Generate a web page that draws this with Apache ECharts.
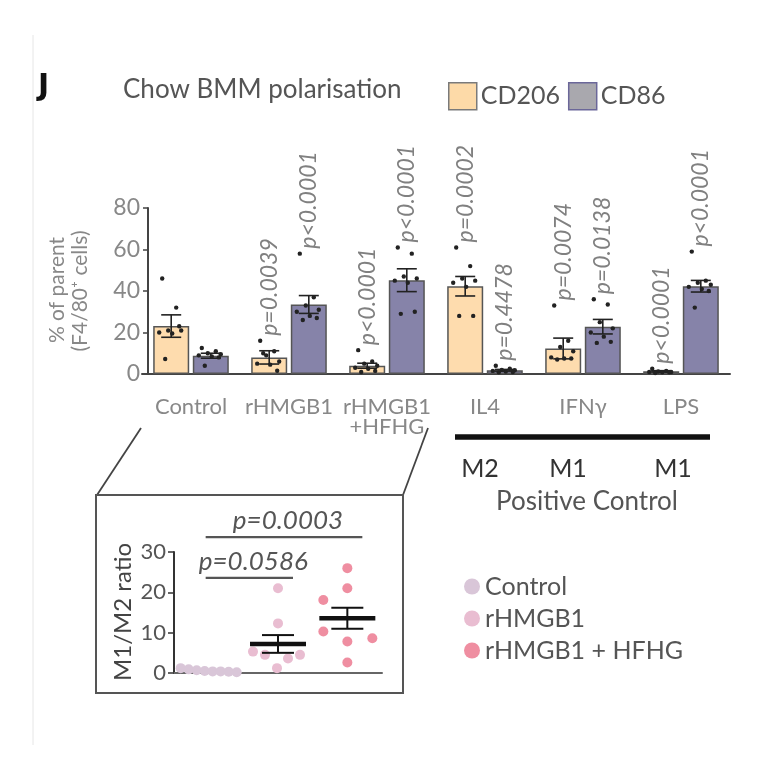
<!DOCTYPE html>
<html><head><meta charset="utf-8">
<script src="https://cdn.jsdelivr.net/npm/echarts@6/dist/echarts.min.js"></script>
<style>html,body{margin:0;padding:0;background:#fff}#c{width:764px;height:764px}</style>
</head><body><div id="c"></div>
<script>
// ---------- data: top panel ----------
const categories = ['Control', 'rHMGB1', 'rHMGB1\n+HFHG', 'IL4', 'IFNγ', 'LPS'];
const yTicks = [0, 20, 40, 60, 80];
const cd206Mean = [23.1, 8.0, 4.0, 42.3, 12.3, 1.3];
const cd206Sem = [5.4, 3.2, 1.2, 4.7, 5.0, 0.3];
const cd86Mean = [8.8, 33.5, 45.2, 1.8, 22.8, 42.3];
const cd86Sem = [1.2, 4.3, 5.5, 0.4, 3.5, 2.8];
const cd206Points = [
  [46, 32, 21, 21, 20, 19.5, 23, 7.2],
  [16, 11, 9, 6, 5, 4.5, 1.6, 10],
  [11.5, 6, 5, 4, 3, 2.5, 1.5, 1],
  [61, 52, 46, 45, 44, 42, 28, 28],
  [33, 16, 13, 11, 8, 7.5, 7.5, 7],
  [2.5, 1.5, 1.2, 1, 1, 0.8, 0.8, 0.5]
];
const cd86Points = [
  [12.5, 11, 10, 9.5, 9, 8.5, 8, 4],
  [58, 37, 33, 31, 30, 28, 27, 26],
  [61, 58, 47, 46, 45, 44, 30, 29],
  [4, 2.5, 2, 1.8, 1.5, 1.2, 1, 0.8],
  [36, 33.5, 25, 22, 20, 18, 15.5, 15],
  [59, 45, 44, 43, 42, 41, 40, 32]
];
const cd206P = ['', 'p=0.0039', 'p<0.0001', 'p=0.0002', 'p=0.0074', 'p<0.0001'];
const cd86P = ['', 'p<0.0001', 'p<0.0001', 'p=0.4478', 'p=0.0138', 'p<0.0001'];

// ---------- data: inset ----------
const ratioGroups = ['Control', 'rHMGB1', 'rHMGB1 + HFHG'];
const ratioTicks = [0, 10, 20, 30];
const ratioPoints = [
  [1.2, 0.9, 0.7, 0.5, 0.4, 0.4, 0.3, 0.2],
  [21, 12.3, 5.3, 4.5, 4.5, 3.6, 1.2],
  [26, 21, 18.1, 10.3, 8.6, 7.8, 2.6]
];
const ratioMean = [0.6, 7.2, 13.6];
const ratioSem = [0.15, 2.2, 2.6];
const comparisons = [['p=0.0586', 0, 1], ['p=0.0003', 0, 2]];

// ---------- styles ----------
const FONT = 'Lato';
const BAR_W = 36, BAR_OFF = 19.8;
const topJitter = [-9, 5, -3, 10, -12, 1, 8, -6];
const insetJitter = [[-28, -20, -12, -4, 4, 12, 20, 28], [0, 0, -25, -13, 22, 10, -1], [0, 0, -24, -24, 25, 0, 0]];
const insetColors = ['#d9c6d8', '#e9bdd1', '#ef8ea1'];
const meanShown = [false, true, true];
const bracketLevel = [23.6, 33.7];

const means = [cd206Mean, cd86Mean], sems = [cd206Sem, cd86Sem], pts = [cd206Points, cd86Points], pl = [cd206P, cd86P];
const errData = [], ptData = [], pData = [], pText = [];
for (let i = 0; i < categories.length; i++) {
  for (let s = 0; s < 2; s++) {
    errData.push([i, means[s][i], sems[s][i], s]);
    pts[s][i].forEach((v, j) => ptData.push([i, v, s, j]));
    if (pl[s][i]) { pData.push([i, Math.max(...pts[s][i]), s]); pText.push(pl[s][i]); }
  }
}
const insetSeries = ratioGroups.map((g, gi) => ({
  type: 'custom', name: g, xAxisIndex: 1, yAxisIndex: 1, z: 5,
  itemStyle: { color: insetColors[gi] },
  encode: { x: 0, y: 1 },
  data: ratioPoints[gi].map((v, j) => [gi, v, j]),
  renderItem: function (params, api) {
    const g0 = api.value(0), j = api.value(2);
    const p = api.coord([g0, api.value(1)]);
    return { type: 'circle', shape: { cx: p[0] + insetJitter[g0][j], cy: p[1], r: 5 }, style: { fill: insetColors[g0] } };
  }
}));

const chart = echarts.init(document.getElementById('c'));
chart.setOption({
  animation: false,
  textStyle: { fontFamily: FONT },
  title: { text: 'Chow BMM polarisation', left: 118, top: 72, textStyle: { fontSize: 26, fontWeight: 'normal', color: '#555', fontFamily: FONT } },
  legend: [
    {
      data: [
        { name: 'CD206', itemStyle: { color: '#fddaa8', borderColor: '#7a7a7a', borderWidth: 1.5 } },
        { name: 'CD86', itemStyle: { color: '#a9a8ae', borderColor: '#6b6799', borderWidth: 1.5 } }
      ],
      left: 443, top: 77, itemWidth: 28, itemHeight: 27, itemGap: 8, icon: 'rect', selectedMode: false,
      textStyle: { fontSize: 25, color: '#555', fontFamily: FONT, padding: [0, 0, 0, -1] }
    },
    {
      data: ratioGroups, orient: 'vertical', left: 459, top: 569, itemWidth: 16, itemHeight: 16, itemGap: 7,
      icon: 'circle', selectedMode: false,
      textStyle: { fontSize: 25, color: '#555', fontFamily: FONT, lineHeight: 25 }
    }
  ],
  grid: [
    { left: 142, top: 208, width: 588, height: 166 },
    { left: 174, top: 552, width: 208, height: 121 }
  ],
  xAxis: [
    {
      type: 'category', data: categories, gridIndex: 0,
      axisLine: { lineStyle: { color: '#444', width: 2 } },
      axisTick: { alignWithLabel: true, length: 5, lineStyle: { color: '#444', width: 1.5 } },
      axisLabel: { fontSize: 22, color: '#888', margin: 23, lineHeight: 20, fontFamily: FONT, interval: 0 }
    },
    {
      type: 'category', data: ratioGroups, gridIndex: 1,
      axisLine: { lineStyle: { color: '#666', width: 2 } },
      axisTick: { show: false }, axisLabel: { show: false }
    }
  ],
  yAxis: [
    {
      type: 'value', gridIndex: 0, min: yTicks[0], max: yTicks[yTicks.length - 1], interval: 20, offset: -6,
      splitLine: { show: false },
      axisLine: { show: true, lineStyle: { color: '#444', width: 2 } },
      axisTick: { show: true, length: 5, lineStyle: { color: '#444', width: 1.5 } },
      axisLabel: { fontSize: 23, color: '#888', margin: 8, fontFamily: FONT }
    },
    {
      type: 'value', gridIndex: 1, min: ratioTicks[0], max: ratioTicks[ratioTicks.length - 1], interval: 10,
      splitLine: { show: false },
      axisLine: { show: true, lineStyle: { color: '#333', width: 2 } },
      axisTick: { show: true, length: 6, lineStyle: { color: '#333', width: 1.5 } },
      axisLabel: { fontSize: 22, color: '#555', margin: 8, fontFamily: FONT }
    }
  ],
  series: [
    {
      type: 'bar', name: 'CD206', data: cd206Mean, barWidth: BAR_W, barGap: '10%', z: 2,
      itemStyle: { color: '#fedcae', borderColor: '#555', borderWidth: 1.5 }
    },
    {
      type: 'bar', name: 'CD86', data: cd86Mean, barWidth: BAR_W, barGap: '10%', z: 2,
      itemStyle: { color: '#8683a9', borderColor: '#555', borderWidth: 1.5 }
    },
    {
      type: 'custom', name: 'err', data: errData, encode: { x: 0, y: 1 }, z: 4, clip: false,
      renderItem: function (params, api) {
        const i = api.value(0), m = api.value(1), s = api.value(2), side = api.value(3);
        const x = api.coord([i, 0])[0] + (side === 0 ? -BAR_OFF : BAR_OFF);
        const yHi = api.coord([i, m + s])[1], yLo = api.coord([i, Math.max(0, m - s)])[1];
        const st = { stroke: '#222', lineWidth: 1.6 };
        return {
          type: 'group', children: [
            { type: 'line', shape: { x1: x, y1: yHi, x2: x, y2: yLo }, style: st },
            { type: 'line', shape: { x1: x - 10, y1: yHi, x2: x + 10, y2: yHi }, style: st },
            { type: 'line', shape: { x1: x - 10, y1: yLo, x2: x + 10, y2: yLo }, style: st }
          ]
        };
      }
    },
    {
      type: 'custom', name: 'pts', data: ptData, encode: { x: 0, y: 1 }, z: 5, clip: false,
      renderItem: function (params, api) {
        const i = api.value(0), side = api.value(2), j = api.value(3);
        const p = api.coord([i, api.value(1)]);
        const x = p[0] + (side === 0 ? -BAR_OFF : BAR_OFF) + topJitter[j % topJitter.length];
        return { type: 'circle', shape: { cx: x, cy: p[1], r: 2.2 }, style: { fill: '#222' } };
      }
    },
    {
      type: 'custom', name: 'plabels', data: pData, encode: { x: 0, y: 1 }, z: 6, clip: false,
      renderItem: function (params, api) {
        const i = api.value(0), side = api.value(2);
        const p = api.coord([i, api.value(1)]);
        const x = p[0] + (side === 0 ? -BAR_OFF : BAR_OFF);
        return {
          type: 'text', x: x, y: p[1] - 5, rotation: Math.PI / 2,
          style: { text: pText[params.dataIndex], align: 'left', verticalAlign: 'middle', fontSize: 23, fontStyle: 'italic', fontFamily: FONT, fill: '#808080' }
        };
      }
    },
    ...insetSeries,
    {
      type: 'custom', name: 'meanSem', xAxisIndex: 1, yAxisIndex: 1, z: 7, clip: false,
      data: ratioMean.map((m, g) => [g, m, ratioSem[g]]), encode: { x: 0, y: 1 },
      renderItem: function (params, api) {
        const g = api.value(0), m = api.value(1), s = api.value(2);
        if (!meanShown[g]) return null;
        const c = api.coord([g, m]);
        const yHi = api.coord([g, m + s])[1], yLo = api.coord([g, m - s])[1];
        const thin = { stroke: '#111', lineWidth: 2 };
        return {
          type: 'group', children: [
            { type: 'line', shape: { x1: c[0], y1: yHi, x2: c[0], y2: yLo }, style: thin },
            { type: 'line', shape: { x1: c[0] - 16, y1: yHi, x2: c[0] + 16, y2: yHi }, style: thin },
            { type: 'line', shape: { x1: c[0] - 16, y1: yLo, x2: c[0] + 16, y2: yLo }, style: thin },
            { type: 'line', shape: { x1: c[0] - 28, y1: c[1], x2: c[0] + 28, y2: c[1] }, style: { stroke: '#111', lineWidth: 4.5 } }
          ]
        };
      }
    },
    {
      type: 'custom', name: 'brackets', xAxisIndex: 1, yAxisIndex: 1, z: 7, clip: false,
      data: comparisons.map((c, k) => [c[1], bracketLevel[k], c[2]]), encode: { x: 0, y: 1 },
      renderItem: function (params, api) {
        const a = api.value(0), lvl = api.value(1), b = api.value(2);
        const x1 = api.coord([a, 0])[0] - 3, x2 = api.coord([b, 0])[0] + 15;
        const y = api.coord([a, lvl])[1];
        return {
          type: 'group', children: [
            { type: 'line', shape: { x1: x1, y1: y, x2: x2, y2: y }, style: { stroke: '#555', lineWidth: 2.2 } },
            {
              type: 'text', x: (x1 + x2) / 2 + 4, y: y - 3,
              style: { text: comparisons[params.dataIndex][0], align: 'center', verticalAlign: 'bottom', fontSize: 26, fontStyle: 'italic', fontFamily: FONT, fill: '#555' }
            }
          ]
        };
      }
    }
  ],
  graphic: [
    { type: 'line', shape: { x1: 33, y1: 35, x2: 33, y2: 745 }, style: { stroke: '#e6e6e6', lineWidth: 1 } },
    { type: 'text', x: 38, y: 87, style: { text: 'J', fontSize: 30, fontWeight: 900, fill: '#111', fontFamily: 'DejaVu Sans', verticalAlign: 'middle' } },
    { type: 'text', x: 57, y: 290, rotation: Math.PI / 2, style: { text: '% of parent', fontSize: 21, fill: '#888', fontFamily: FONT, align: 'center', verticalAlign: 'middle' } },
    { type: 'text', x: 80, y: 291, rotation: Math.PI / 2, style: { text: '(F4/80⁺ cells)', fontSize: 21, fill: '#888', fontFamily: FONT, align: 'center', verticalAlign: 'middle' } },
    { type: 'line', shape: { x1: 141, y1: 428, x2: 97, y2: 495 }, style: { stroke: '#444', lineWidth: 1.8 } },
    { type: 'line', shape: { x1: 428, y1: 428, x2: 403, y2: 495 }, style: { stroke: '#444', lineWidth: 1.8 } },
    { type: 'rect', shape: { x: 96, y: 495, width: 307, height: 198 }, style: { fill: 'none', stroke: '#555', lineWidth: 2 } },
    { type: 'line', shape: { x1: 455, y1: 437, x2: 710, y2: 437 }, style: { stroke: '#111', lineWidth: 5.5 } },
    { type: 'text', x: 480, y: 469, style: { text: 'M2', fontSize: 25, fill: '#333', fontFamily: FONT, align: 'center', verticalAlign: 'middle' } },
    { type: 'text', x: 568, y: 469, style: { text: 'M1', fontSize: 25, fill: '#333', fontFamily: FONT, align: 'center', verticalAlign: 'middle' } },
    { type: 'text', x: 673, y: 469, style: { text: 'M1', fontSize: 25, fill: '#333', fontFamily: FONT, align: 'center', verticalAlign: 'middle' } },
    { type: 'text', x: 587, y: 502, style: { text: 'Positive Control', fontSize: 26, fill: '#555', fontFamily: FONT, align: 'center', verticalAlign: 'middle' } },
    { type: 'text', x: 123, y: 612, rotation: Math.PI / 2, style: { text: 'M1/M2 ratio', fontSize: 24, fill: '#444', fontFamily: FONT, align: 'center', verticalAlign: 'middle' } }
  ]
});
</script></body></html>
